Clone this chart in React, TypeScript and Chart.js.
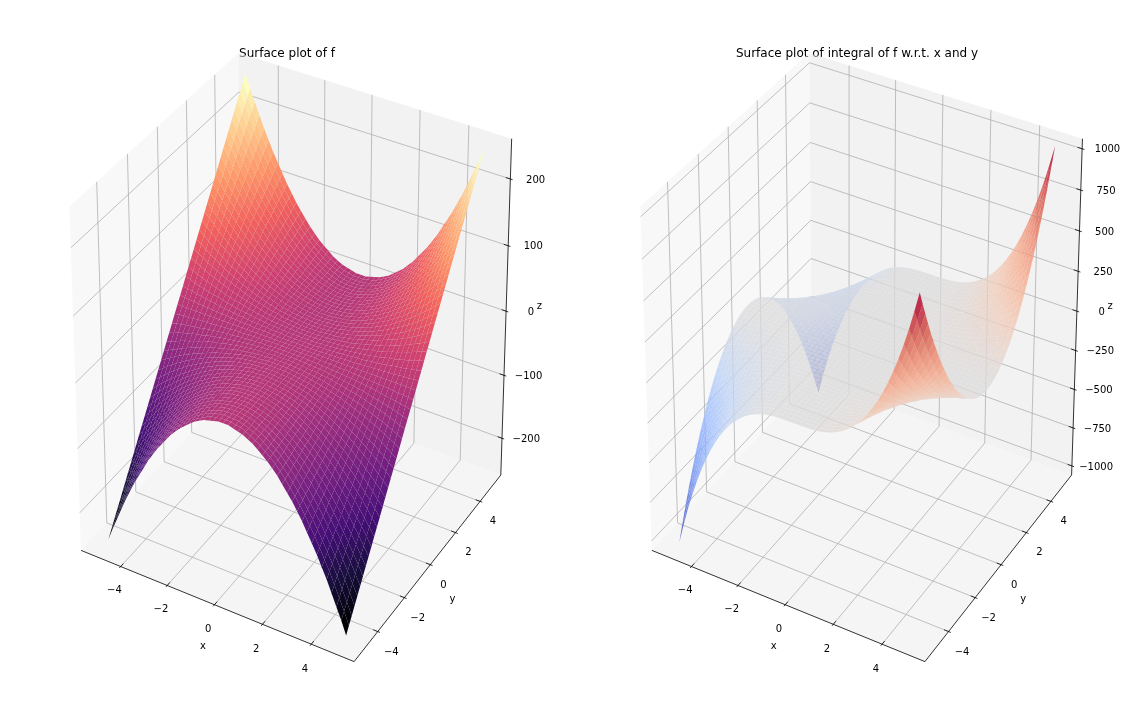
import React, { useEffect, useRef } from "react";
import { Chart, registerables } from "chart.js";

Chart.register(...registerables);

// grid coordinates, from the outer edge to the centre
const halfGrid = [5, 4.8, 4.6, 4.4, 4.2, 4, 3.8, 3.6, 3.4, 3.2, 3, 2.8, 2.6, 2.4, 2.2, 2, 1.8, 1.6, 1.4, 1.2, 1, 0.8, 0.6, 0.4, 0.2, 0];
// values read for |y| (rows) and |x| (columns)
const fQuadrant = [
  [250,230,212,194,176,160,144,130,116,102,90,78,68,58,48,40,32,26,20,14,10,6,4,2,0,0],
  [240,221,203,186,169,154,139,124,111,98,86,75,65,55,46,38,31,25,19,14,10,6,3,2,0,0],
  [230,212,195,178,162,147,133,119,106,94,83,72,62,53,45,37,30,24,18,13,9,6,3,1,0,0],
  [220,203,186,170,155,141,127,114,102,90,79,69,59,51,43,35,29,23,17,13,9,6,3,1,0,0],
  [210,194,178,163,148,134,121,109,97,86,76,66,57,48,41,34,27,22,16,12,8,5,3,1,0,0],
  [200,184,169,155,141,128,116,104,92,82,72,63,54,46,39,32,26,20,16,12,8,5,3,1,0,0],
  [190,175,161,147,134,122,110,98,88,78,68,60,51,44,37,30,25,19,15,11,8,5,3,1,0,0],
  [180,166,152,139,127,115,104,93,83,74,65,56,49,41,35,29,23,18,14,10,7,5,3,1,0,0],
  [170,157,144,132,120,109,98,88,79,70,61,53,46,39,33,27,22,17,13,10,7,4,2,1,0,0],
  [160,147,135,124,113,102,92,83,74,66,58,50,43,37,31,26,21,16,13,9,6,4,2,1,0,0],
  [150,138,127,116,106,96,87,78,69,61,54,47,41,35,29,24,19,15,12,9,6,4,2,1,0,0],
  [140,129,118,108,99,90,81,73,65,57,50,44,38,32,27,22,18,14,11,8,6,4,2,1,0,0],
  [130,120,110,101,92,83,75,67,60,53,47,41,35,30,25,21,17,13,10,7,5,3,2,1,0,0],
  [120,111,102,93,85,77,69,62,55,49,43,38,32,28,23,19,16,12,9,7,5,3,2,1,0,0],
  [110,101,93,85,78,70,64,57,51,45,40,34,30,25,21,18,14,11,9,6,4,3,2,1,0,0],
  [100,92,85,77,71,64,58,52,46,41,36,31,27,23,19,16,13,10,8,6,4,3,1,1,0,0],
  [90,83,76,70,64,58,52,47,42,37,32,28,24,21,17,14,12,9,7,5,4,2,1,1,0,0],
  [80,74,68,62,56,51,46,41,37,33,29,25,22,18,15,13,10,8,6,5,3,2,1,1,0,0],
  [70,65,59,54,49,45,40,36,32,29,25,22,19,16,14,11,9,7,5,4,3,2,1,0,0,0],
  [60,55,51,46,42,38,35,31,28,25,22,19,16,14,12,10,8,6,5,3,2,2,1,0,0,0],
  [50,46,42,39,35,32,29,26,23,20,18,16,14,12,10,8,6,5,4,3,2,1,1,0,0,0],
  [40,37,34,31,28,26,23,21,18,16,14,13,11,9,8,6,5,4,3,2,2,1,1,0,0,0],
  [30,28,25,23,21,19,17,16,14,12,11,9,8,7,6,5,4,3,2,2,1,1,0,0,0,0],
  [20,18,17,15,14,13,12,10,9,8,7,6,5,5,4,3,3,2,2,1,1,1,0,0,0,0],
  [10,9,8,8,7,6,6,5,5,4,4,3,3,2,2,2,1,1,1,1,0,0,0,0,0,0],
  [0,0,0,0,0,0,0,0,0,0,0,0,0,0,0,0,0,0,0,0,0,0,0,0,0,0],
];
const integralQuadrant = [
  [1042,922,811,710,617,533,457,389,327,273,225,183,146,115,89,67,49,34,23,14,8,4,2,1,0,0],
  [960,850,747,654,569,491,421,359,301,252,207,169,135,106,82,62,45,31,21,13,7,4,2,1,0,0],
  [882,780,686,601,522,451,387,329,277,231,190,155,124,97,75,57,41,29,19,12,7,3,2,1,0,0],
  [807,714,628,550,478,413,354,301,253,211,174,142,113,89,69,52,38,26,18,11,6,3,2,1,0,0],
  [735,651,572,501,435,376,322,274,231,193,159,129,103,81,63,47,35,24,16,10,6,3,1,1,0,0],
  [667,590,519,454,395,341,292,249,209,175,144,117,93,74,57,43,31,22,15,9,5,3,1,1,0,0],
  [602,533,468,410,356,308,264,225,189,158,130,106,84,66,51,39,28,20,13,8,5,2,1,1,0,0],
  [540,478,420,368,320,276,237,202,170,142,117,95,76,60,46,35,25,18,12,7,4,2,1,1,0,0],
  [482,426,375,328,285,246,211,180,151,126,104,85,68,53,41,31,23,16,11,6,4,2,1,0,0,0],
  [427,378,332,291,253,218,187,159,134,112,92,75,60,47,36,27,20,14,9,6,3,2,1,0,0,0],
  [375,332,292,256,222,192,165,140,118,98,81,66,53,41,32,24,18,12,8,5,3,1,1,0,0,0],
  [327,289,254,223,193,167,143,122,103,86,71,57,46,36,28,21,15,11,7,4,3,1,1,0,0,0],
  [282,249,219,192,167,144,124,105,88,74,61,49,39,31,24,18,13,9,6,4,2,1,1,0,0,0],
  [240,212,187,164,142,123,105,90,75,63,52,42,34,26,21,15,11,8,5,3,2,1,0,0,0,0],
  [202,179,157,137,119,103,88,75,63,53,44,35,28,22,17,13,9,7,4,3,2,1,0,0,0,0],
  [167,148,130,114,99,85,73,62,52,44,36,29,23,18,14,11,8,5,4,2,1,1,0,0,0,0],
  [135,119,105,92,80,69,59,50,42,35,29,24,19,15,12,9,6,4,3,2,1,1,0,0,0,0],
  [107,94,83,73,63,55,47,40,33,28,23,19,15,12,9,7,5,3,2,1,1,0,0,0,0,0],
  [82,72,64,56,48,42,36,30,26,21,18,14,11,9,7,5,4,3,2,1,1,0,0,0,0,0],
  [60,53,47,41,36,31,26,22,19,16,13,11,8,7,5,4,3,2,1,1,0,0,0,0,0,0],
  [42,37,32,28,25,21,18,16,13,11,9,7,6,5,4,3,2,1,1,1,0,0,0,0,0,0],
  [27,24,21,18,16,14,12,10,8,7,6,5,4,3,2,2,1,1,1,0,0,0,0,0,0,0],
  [15,13,12,10,9,8,7,6,5,4,3,3,2,2,1,1,1,0,0,0,0,0,0,0,0,0],
  [7,6,5,5,4,3,3,2,2,2,1,1,1,1,1,0,0,0,0,0,0,0,0,0,0,0],
  [2,1,1,1,1,1,1,1,1,0,0,0,0,0,0,0,0,0,0,0,0,0,0,0,0,0],
  [0,0,0,0,0,0,0,0,0,0,0,0,0,0,0,0,0,0,0,0,0,0,0,0,0,0],
];
const xyTicks = [-4, -2, 0, 2, 4];
const zTicksF = [-200, -100, 0, 100, 200];
const zTicksIntegral = [-1000, -750, -500, -250, 0, 250, 500, 750, 1000];
const magma = ["#000004", "#180f3d", "#440f76", "#721f81", "#9e2f7f", "#cd4071", "#f1605d", "#fd9668", "#feca8d", "#fcfdbf"];
const coolwarm = ["#3b4cc0", "#5977e3", "#7b9ff9", "#9ebeff", "#c0d4f5", "#dddcdc", "#f2cbb7", "#f7ac8e", "#ee8468", "#d65244", "#b40426"];

type V3 = [number, number, number];

function hex(c: string) {
  return [1, 3, 5].map((i) => parseInt(c.slice(i, i + 2), 16));
}
function sample(map: string[], t: number, alpha: number) {
  const p = Math.min(0.9999, Math.max(0, t)) * (map.length - 1);
  const i = Math.floor(p);
  const a = hex(map[i]);
  const b = hex(map[i + 1]);
  const k = p - i;
  const m = [0, 1, 2].map((n) => Math.round(a[n] + (b[n] - a[n]) * k));
  return `rgba(${m[0]},${m[1]},${m[2]},${alpha})`;
}

interface PanelSpec {
  title: string;
  quadrant: number[][];
  signX: boolean; // odd in x
  signY: boolean; // odd in y
  zLim: number;
  zTicks: number[];
  cmap: string[];
  alpha: number;
  a: number;
  b: number;
  c: number;
  d: number;
}

const LIM = 5.5;
const ELEV = (30 * Math.PI) / 180;
const AZIM = (-60 * Math.PI) / 180;
const DIST = 10;
const CANVAS_W = 572;
const CANVAS_H = 712;

function buildChart(canvas: HTMLCanvasElement, s: PanelSpec) {
  const n: V3 = [Math.cos(ELEV) * Math.cos(AZIM), Math.cos(ELEV) * Math.sin(AZIM), Math.sin(ELEV)];
  const ul = Math.hypot(n[0], n[1]);
  const u: V3 = [-n[1] / ul, n[0] / ul, 0];
  const v: V3 = [n[1] * u[2] - n[2] * u[1], n[2] * u[0] - n[0] * u[2], n[0] * u[1] - n[1] * u[0]];
  const norm = (p: V3): V3 => [p[0] / (2 * LIM), p[1] / (2 * LIM), p[2] / (2 * s.zLim)];
  const dot = (a: V3, b: V3) => a[0] * b[0] + a[1] * b[1] + a[2] * b[2];
  const project = (p: V3) => {
    const q = norm(p);
    const w = DIST - dot(q, n);
    return { x: dot(q, u) / w, y: dot(q, v) / w };
  };
  const depth = (p: V3) => dot(norm(p), n);

  const grid = [...halfGrid, ...halfGrid.slice(0, -1).reverse().map((g) => -g)];
  const idx = (g: number) => halfGrid.indexOf(Math.abs(g));
  const zAt = (x: number, y: number) =>
    s.quadrant[idx(y)][idx(x)] * (s.signX && x < 0 ? -1 : 1) * (s.signY && y < 0 ? -1 : 1);

  const PX = LIM + (2 * LIM) / 48;
  const PZ = s.zLim + (2 * s.zLim) / 48;
  const dXY = (2 * LIM) / 12;
  const dZ = (2 * s.zLim) / 12;

  const paint: any[] = [];
  const polygon = (pts: V3[], color: string) =>
    paint.push({
      data: pts.map(project),
      showLine: true,
      fill: "shape",
      backgroundColor: color,
      borderWidth: 0,
      pointRadius: 0,
      clip: false,
    });
  const polyline = (pts: V3[], color: string, width = 0.8) =>
    paint.push({
      data: pts.map(project),
      showLine: true,
      fill: false,
      borderColor: color,
      borderWidth: width,
      pointRadius: 0,
      clip: false,
    });

  // panes
  polygon([[-PX, -PX, -PZ], [-PX, PX, -PZ], [-PX, PX, PZ], [-PX, -PX, PZ]], "rgba(242,242,242,0.5)");
  polygon([[-PX, PX, -PZ], [PX, PX, -PZ], [PX, PX, PZ], [-PX, PX, PZ]], "rgba(230,230,230,0.5)");
  polygon([[-PX, -PX, -PZ], [PX, -PX, -PZ], [PX, PX, -PZ], [-PX, PX, -PZ]], "rgba(236,236,236,0.5)");

  // grid
  const GRID = "#b0b0b0";
  xyTicks.forEach((t) => polyline([[t, -PX, -PZ], [t, PX, -PZ], [t, PX, PZ]], GRID));
  xyTicks.forEach((t) => polyline([[PX, t, -PZ], [-PX, t, -PZ], [-PX, t, PZ]], GRID));
  s.zTicks.forEach((t) => polyline([[PX, PX, t], [-PX, PX, t], [-PX, -PX, t]], GRID));

  // axis lines and tick marks
  polyline([[-PX, -PX, -PZ], [PX, -PX, -PZ]], "#000");
  polyline([[PX, -PX, -PZ], [PX, PX, -PZ]], "#000");
  polyline([[PX, PX, -PZ], [PX, PX, PZ]], "#000");
  const OUT = 0.1;
  const IN = 0.2;
  xyTicks.forEach((t) => polyline([[t, -PX - OUT * dXY, -PZ], [t, -PX + IN * dXY, -PZ]], "#000"));
  xyTicks.forEach((t) => polyline([[PX + OUT * dXY, t, -PZ], [PX - IN * dXY, t, -PZ]], "#000"));
  s.zTicks.forEach((t) => polyline([[PX + OUT * dXY, PX, t], [PX - IN * dXY, PX, t]], "#000"));

  // surface quads, far to near
  const faces: { pts: V3[]; mean: number; depth: number }[] = [];
  for (let j = 0; j < grid.length - 1; j++) {
    for (let i = 0; i < grid.length - 1; i++) {
      const pts: V3[] = [
        [grid[i], grid[j], zAt(grid[i], grid[j])],
        [grid[i + 1], grid[j], zAt(grid[i + 1], grid[j])],
        [grid[i + 1], grid[j + 1], zAt(grid[i + 1], grid[j + 1])],
        [grid[i], grid[j + 1], zAt(grid[i], grid[j + 1])],
      ];
      faces.push({
        pts,
        mean: (pts[0][2] + pts[1][2] + pts[2][2] + pts[3][2]) / 4,
        depth: pts.reduce((acc, p) => acc + depth(p), 0) / 4,
      });
    }
  }
  const lo = faces.reduce((m, f) => Math.min(m, f.mean), Infinity);
  const hi = faces.reduce((m, f) => Math.max(m, f.mean), -Infinity);
  faces.sort((p, q) => p.depth - q.depth);
  faces.forEach((f) => polygon(f.pts, sample(s.cmap, (f.mean - lo) / (hi - lo), s.alpha)));

  // labels
  const TICK_S = 0.56;
  const LABEL_S = 0.97;
  const labels: { text: string; at: V3 }[] = [];
  const fmt = (t: number) => (t < 0 ? "\u2212" + Math.abs(t) : String(t));
  xyTicks.forEach((t) => labels.push({ text: fmt(t), at: [t, -PX - TICK_S * dXY, -PZ - TICK_S * dZ] }));
  xyTicks.forEach((t) => labels.push({ text: fmt(t), at: [PX + TICK_S * dXY, t, -PZ - TICK_S * dZ] }));
  s.zTicks.forEach((t) => labels.push({ text: fmt(t), at: [PX + 0.83 * dXY, PX + 0.48 * dXY, t] }));
  labels.push({ text: "x", at: [0, -PX - LABEL_S * dXY, -PZ - LABEL_S * dZ] });
  labels.push({ text: "y", at: [PX + LABEL_S * dXY, 0, -PZ - LABEL_S * dZ] });
  labels.push({ text: "z", at: [PX + LABEL_S * dXY, PX + LABEL_S * dXY, 0] });

  const labelPlugin = {
    id: "axisText",
    afterDatasetsDraw(chart: any) {
      const ctx = chart.ctx;
      ctx.save();
      ctx.font = '10px "DejaVu Sans"';
      ctx.fillStyle = "#000";
      ctx.textAlign = "center";
      ctx.textBaseline = "middle";
      labels.forEach((l) => {
        const p = project(l.at);
        ctx.fillText(l.text, chart.scales.x.getPixelForValue(p.x) + 1, chart.scales.y.getPixelForValue(p.y) + 1);
      });
      ctx.restore();
    },
  };

  return new Chart(canvas, {
    type: "scatter",
    data: { datasets: paint.slice().reverse() },
    plugins: [labelPlugin],
    options: {
      animation: false,
      responsive: false,
      maintainAspectRatio: false,
      devicePixelRatio: 1,
      events: [],
      layout: { padding: 0 },
      scales: {
        x: { type: "linear", display: false, min: (0 - s.a) / s.b, max: (CANVAS_W - s.a) / s.b },
        y: { type: "linear", display: false, min: (s.c - CANVAS_H) / s.d, max: s.c / s.d },
      },
      plugins: {
        legend: { display: false },
        tooltip: { enabled: false },
        title: {
          display: true,
          text: s.title,
          color: "#000",
          font: { family: '"DejaVu Sans"', size: 12, weight: "normal", lineHeight: 1.2 },
          padding: { top: 46.8, bottom: -61.2 },
        },
      },
    },
  } as any);
}

const leftPanel: PanelSpec = {
  title: "Surface plot of f",
  quadrant: fQuadrant,
  signX: false,
  signY: true,
  zLim: 249,
  zTicks: zTicksF,
  cmap: magma,
  alpha: 1,
  a: 293.3,
  b: 3026,
  c: 346.5,
  d: 3767,
};
const rightPanel: PanelSpec = {
  title: "Surface plot of integral of f w.r.t. x and y",
  quadrant: integralQuadrant,
  signX: true,
  signY: false,
  zLim: 1018,
  zTicks: zTicksIntegral,
  cmap: coolwarm,
  alpha: 0.8,
  a: 294.1,
  b: 3026,
  c: 346.5,
  d: 3767,
};

export default function App() {
  const leftRef = useRef<HTMLCanvasElement>(null);
  const rightRef = useRef<HTMLCanvasElement>(null);
  useEffect(() => {
    const l = buildChart(leftRef.current!, leftPanel);
    const r = buildChart(rightRef.current!, rightPanel);
    return () => {
      l.destroy();
      r.destroy();
    };
  }, []);
  return (
    <div style={{ position: "absolute", left: 0, top: 0, width: 1144, height: 712, background: "#fff" }}>
      <canvas ref={leftRef} width={CANVAS_W} height={CANVAS_H} style={{ display: "block", position: "absolute", left: 1, top: 0 }} />
      <canvas ref={rightRef} width={CANVAS_W} height={CANVAS_H} style={{ display: "block", position: "absolute", left: 571, top: 0 }} />
    </div>
  );
}
